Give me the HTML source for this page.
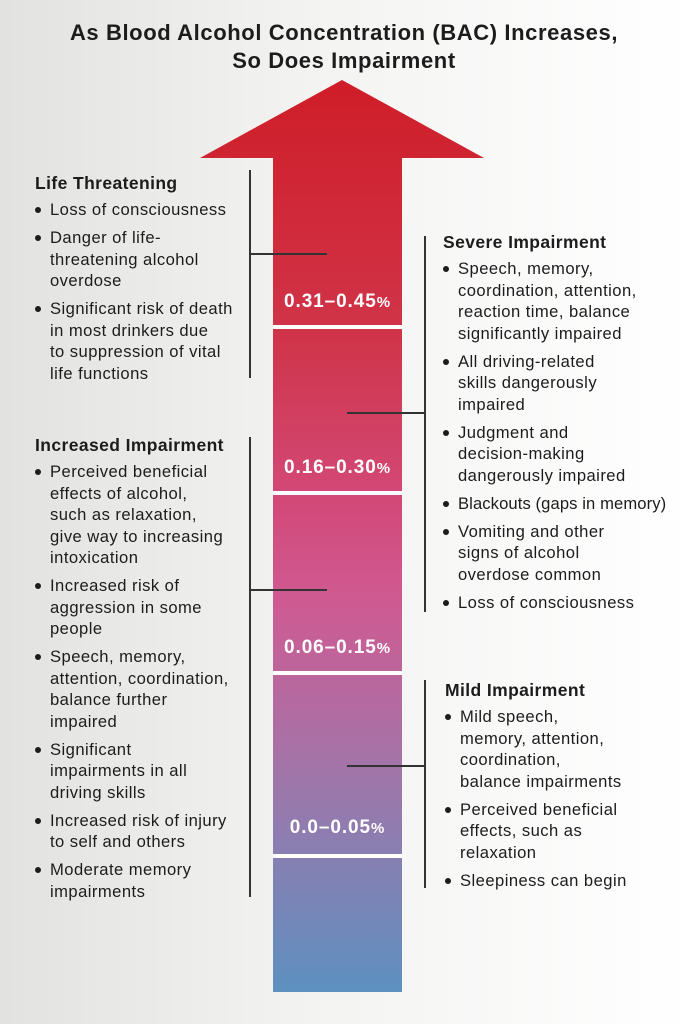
<!DOCTYPE html>
<html><head><meta charset="utf-8"><style>
body{margin:0;width:688px;height:1024px;overflow:hidden;background:linear-gradient(90deg,#e2e2e0 0%,#f3f3f2 45%,#ffffff 100%);font-family:"Liberation Sans",sans-serif;color:#1c1c1c;position:relative}
.title{position:absolute;left:0;width:688px;top:19px;text-align:center;font-weight:bold;font-size:22px;letter-spacing:0.6px;line-height:28px}
.blk{position:absolute}
.blk h3{margin:0;font-size:17.5px;letter-spacing:0.4px;line-height:22px;font-weight:bold}
.blk ul{margin:5px 0 0 0;padding:0;list-style:none}
.blk li{position:relative;padding-left:15px;font-size:16.6px;letter-spacing:0.45px;line-height:21.5px;margin-bottom:6.5px;white-space:nowrap}
.blk li:before{content:"";position:absolute;left:0;top:8px;width:6px;height:6px;border-radius:50%;background:#1c1c1c}
.ln{position:absolute;background:#333}
.lab{position:absolute;left:268px;width:139px;text-align:center;color:#fff;font-weight:bold;font-size:19px;letter-spacing:0.9px}
.lab small{font-size:15px}
</style></head><body>
<div class="title">As Blood Alcohol Concentration (BAC) Increases,<br>So Does Impairment</div>
<svg width="688" height="1024" style="position:absolute;left:0;top:0">
<defs><linearGradient id="g" x1="0" y1="80" x2="0" y2="992" gradientUnits="userSpaceOnUse">
<stop offset="0" stop-color="#cf1d28"/><stop offset="0.28" stop-color="#d03449"/><stop offset="0.47" stop-color="#d24a7a"/><stop offset="0.57" stop-color="#cf5a92"/><stop offset="0.75" stop-color="#a474a8"/><stop offset="1" stop-color="#5d90c0"/></linearGradient></defs>
<path d="M342 80 L484 158 L402 158 L402 992 L273 992 L273 158 L200 158 Z" fill="url(#g)"/>
<rect x="273" y="325" width="129" height="4" fill="#fff"/>
<rect x="273" y="491" width="129" height="4" fill="#fff"/>
<rect x="273" y="671" width="129" height="4" fill="#fff"/>
<rect x="273" y="854" width="129" height="4" fill="#fff"/>
</svg>
<div class="lab" style="top:291px">0.31–0.45<small>%</small></div>
<div class="lab" style="top:457px">0.16–0.30<small>%</small></div>
<div class="lab" style="top:637px">0.06–0.15<small>%</small></div>
<div class="lab" style="top:817px">0.0–0.05<small>%</small></div>

<div class="ln" style="left:249px;top:170px;width:1.5px;height:208px"></div>
<div class="ln" style="left:249px;top:253px;width:78px;height:1.5px"></div>
<div class="ln" style="left:249px;top:437px;width:1.5px;height:460px"></div>
<div class="ln" style="left:249px;top:589px;width:78px;height:1.5px"></div>
<div class="ln" style="left:424px;top:236px;width:1.5px;height:376px"></div>
<div class="ln" style="left:347px;top:412px;width:78px;height:1.5px"></div>
<div class="ln" style="left:424px;top:680px;width:1.5px;height:208px"></div>
<div class="ln" style="left:347px;top:765px;width:78px;height:1.5px"></div>

<div class="blk" style="left:35px;top:172px;width:215px">
<h3>Life Threatening</h3><ul>
<li>Loss of consciousness</li>
<li>Danger of life-<br>threatening alcohol<br>overdose</li>
<li>Significant risk of death<br>in most drinkers due<br>to suppression of vital<br>life functions</li></ul></div>

<div class="blk" style="left:35px;top:434px;width:215px">
<h3>Increased Impairment</h3><ul>
<li>Perceived beneficial<br>effects of alcohol,<br>such as relaxation,<br>give way to increasing<br>intoxication</li>
<li>Increased risk of<br>aggression in some<br>people</li>
<li>Speech, memory,<br>attention, coordination,<br>balance further<br>impaired</li>
<li>Significant<br>impairments in all<br>driving skills</li>
<li>Increased risk of injury<br>to self and others</li>
<li>Moderate memory<br>impairments</li></ul></div>

<div class="blk" style="left:443px;top:231px;width:245px">
<h3>Severe Impairment</h3><ul>
<li>Speech, memory,<br>coordination, attention,<br>reaction time, balance<br>significantly impaired</li>
<li>All driving-related<br>skills dangerously<br>impaired</li>
<li>Judgment and<br>decision-making<br>dangerously impaired</li>
<li style="letter-spacing:0.1px">Blackouts (gaps in memory)</li>
<li>Vomiting and other<br>signs of alcohol<br>overdose common</li>
<li>Loss of consciousness</li></ul></div>

<div class="blk" style="left:445px;top:679px;width:243px">
<h3>Mild Impairment</h3><ul>
<li>Mild speech,<br>memory, attention,<br>coordination,<br>balance impairments</li>
<li>Perceived beneficial<br>effects, such as<br>relaxation</li>
<li>Sleepiness can begin</li></ul></div>
</body></html>
